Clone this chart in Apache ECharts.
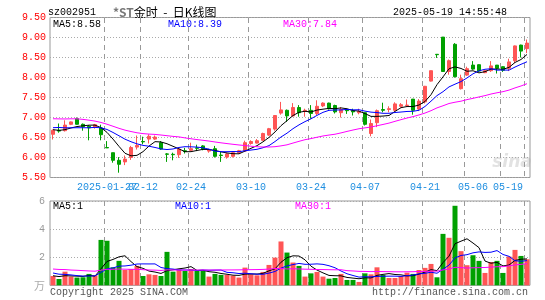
<!DOCTYPE html>
<html>
<head>
<meta charset="utf-8">
<script src="https://cdn.jsdelivr.net/npm/echarts@6/dist/echarts.min.js"></script>
<style>
html, body { margin: 0; padding: 0; background: #fff; }
#main { width: 545px; height: 300px; }
</style>
</head>
<body>
<div id="main"></div>
<script>
// trading days shown (2025-01-14 .. 2025-05-19)
const dates = [
  '2025-01-14','2025-01-15','2025-01-16','2025-01-17','2025-01-20','2025-01-21','2025-01-22','2025-01-23','2025-01-24','2025-01-27',
  '2025-02-05','2025-02-06','2025-02-07','2025-02-10','2025-02-11','2025-02-12','2025-02-13','2025-02-14','2025-02-17','2025-02-18',
  '2025-02-19','2025-02-20','2025-02-21','2025-02-24','2025-02-25','2025-02-26','2025-02-27','2025-02-28',
  '2025-03-03','2025-03-04','2025-03-05','2025-03-06','2025-03-07','2025-03-10','2025-03-11','2025-03-12','2025-03-13','2025-03-14',
  '2025-03-17','2025-03-18','2025-03-19','2025-03-20','2025-03-21','2025-03-24','2025-03-25','2025-03-26','2025-03-27','2025-03-28','2025-03-31',
  '2025-04-01','2025-04-02','2025-04-03','2025-04-07','2025-04-08','2025-04-09','2025-04-10','2025-04-11','2025-04-14','2025-04-15',
  '2025-04-16','2025-04-17','2025-04-18','2025-04-21','2025-04-22','2025-04-23','2025-04-24','2025-04-25','2025-04-28','2025-04-29','2025-04-30',
  '2025-05-06','2025-05-07','2025-05-08','2025-05-09','2025-05-12','2025-05-13','2025-05-14','2025-05-15','2025-05-16','2025-05-19'
];

const opens = [
  6.58,6.68,6.67,6.83,6.97,6.83,6.78,6.76,6.74,6.25,
  6.12,5.93,5.89,6.00,6.26,6.40,6.46,6.46,6.37,6.09,
  6.08,6.07,6.17,6.18,6.24,6.29,6.16,6.22,
  6.06,6.01,6.03,6.12,6.16,6.35,6.36,6.43,6.56,6.71,
  7.11,7.18,7.04,7.25,7.15,7.18,7.10,7.29,7.36,7.30,7.12,
  7.19,7.17,7.12,7.12,6.60,6.87,7.20,7.20,7.18,7.28,
  7.30,7.46,7.21,7.39,7.91,8.58,9.01,8.15,8.83,7.72,8.06,
  8.31,8.32,8.12,8.17,8.31,8.27,8.23,8.42,8.81,8.72
];
const closes = [
  6.68,6.66,6.81,6.89,6.83,6.77,6.74,6.82,6.57,6.24,
  5.93,5.83,5.96,6.25,6.30,6.39,6.53,6.51,6.21,6.08,
  6.07,6.21,6.15,6.22,6.23,6.21,6.19,6.03,
  6.05,6.09,6.12,6.17,6.37,6.40,6.42,6.60,6.72,7.05,
  7.19,7.04,7.25,7.12,7.18,7.10,7.28,7.36,7.22,7.14,7.20,
  7.17,7.14,7.15,6.83,6.85,7.17,7.18,7.22,7.34,7.32,
  7.31,7.18,7.41,7.78,8.17,8.57,8.15,8.42,8.02,7.97,8.22,
  8.21,8.16,8.17,8.29,8.23,8.18,8.39,8.79,8.66,8.86
];
const lows = [
  6.45,6.62,6.65,6.81,6.82,6.67,6.43,6.72,6.43,6.24,
  5.87,5.62,5.81,5.94,6.20,6.33,6.35,6.44,6.19,5.89,
  5.93,5.99,6.10,6.16,6.16,6.18,6.12,6.00,
  5.89,5.97,6.00,6.10,6.15,6.32,6.35,6.42,6.54,6.67,
  7.07,6.89,7.02,7.02,7.02,6.97,7.06,7.26,7.20,7.10,7.00,
  7.09,7.05,7.08,6.80,6.53,6.76,7.13,7.13,7.15,7.25,
  7.27,7.07,7.16,7.35,7.90,8.49,8.14,8.07,8.00,7.70,8.04,
  8.19,8.14,8.11,8.14,8.10,8.14,8.16,8.36,8.50,8.61
];
const highs = [
  6.70,6.85,6.93,6.90,7.00,6.85,6.81,6.84,6.82,6.41,
  6.12,6.01,6.05,6.29,6.55,6.52,6.58,6.55,6.41,6.11,
  6.12,6.24,6.24,6.37,6.32,6.31,6.22,6.29,
  6.14,6.12,6.14,6.19,6.42,6.43,6.46,6.62,6.74,7.06,
  7.39,7.20,7.36,7.31,7.22,7.31,7.43,7.38,7.37,7.32,7.26,
  7.22,7.22,7.22,7.12,6.95,7.20,7.37,7.28,7.38,7.36,
  7.45,7.46,7.46,7.79,8.17,8.58,9.01,8.45,8.86,8.07,8.27,
  8.41,8.33,8.18,8.41,8.31,8.28,8.47,8.80,8.82,8.95
];
// volume, 万手
const volumes = [
  0.66,0.45,0.97,0.62,0.55,0.57,0.81,0.71,3.23,3.17,
  1.28,1.74,1.09,1.16,1.38,0.66,0.78,0.74,0.66,2.38,
  0.97,1.12,1.02,1.16,1.02,1.02,0.62,0.81,
  0.74,0.74,0.69,0.55,1.26,0.78,0.71,0.95,1.45,1.97,
  3.12,2.33,1.62,1.38,0.62,0.85,0.95,0.62,0.47,0.52,0.81,
  0.38,0.38,0.24,0.85,0.78,1.28,0.74,0.52,0.52,0.66,
  0.90,0.81,1.09,1.24,1.52,0.57,3.66,3.38,5.66,2.43,1.43,
  2.14,1.74,0.88,1.66,1.74,0.88,2.05,2.52,2.09,1.85
];

// days before the window, estimated from where the MA lines start
const closesBefore = [
  6.80,6.85,6.78,6.82,7.20,7.35,7.50,7.60,7.55,7.45,
  7.40,7.30,7.30,7.25,7.00,6.90,6.75,6.65,6.60,6.58,
  6.60,6.90,6.88,6.82,6.77,6.75,6.72,6.68,6.65
];
const volumesBefore = [
  1.40,1.20,1.60,1.10,1.30,1.50,1.20,1.00,1.40,1.30,
  1.10,1.45,1.50,1.30,1.45,1.40,1.10,1.30,1.20,1.20,
  1.30,1.10,1.00,1.05,0.90,0.75,0.65,0.70,0.64
];

// dashed day lines and dated labels on the time axis
const lineDays = ['2025-01-27','2025-02-12','2025-02-24','2025-03-10','2025-03-24','2025-04-07','2025-04-21','2025-04-30','2025-05-13','2025-05-19'];
const labelDays = ['2025-01-27','2025-02-12','2025-02-24','2025-03-10','2025-03-24','2025-04-07','2025-04-21','2025-05-06','2025-05-19'];

const UP = '#ff5555';
const DOWN = '#00a000';
const MONO = 'Liberation Mono';
const DATE_COLOR = '#1e8ee0';
const SEP_COLOR = '#999999';
const PRICE_MIN = 5.5, PRICE_MAX = 9.5;
const VOL_MAX = 6;

function movingAvg(before, values, n) {
  const all = before.concat(values);
  return values.map(function (v, i) {
    let s = 0;
    for (let k = 0; k < n; k++) s += all[before.length + i - k];
    return +(s / n).toFixed(3);
  });
}

const ma5 = movingAvg(closesBefore, closes, 5);
const ma10 = movingAvg(closesBefore, closes, 10);
const ma30 = movingAvg(closesBefore, closes, 30);
const vma5 = movingAvg(volumesBefore, volumes, 5);
const vma10 = movingAvg(volumesBefore, volumes, 10);
const vma30 = movingAvg(volumesBefore, volumes, 30);
const last = dates.length - 1;

const lineIdx = lineDays.map(function (d) { return dates.indexOf(d); });
const labelIdx = labelDays.map(function (d) { return dates.indexOf(d); });

const chart = echarts.init(document.getElementById('main'));

// dashed day separators at the left edge of the day's band, one rect per dash
const DASH = 5, GAP = 4;
function dayLines(axisIndex, yLo, yHi) {
  const items = [];
  lineIdx.forEach(function (i) {
    for (let k = 0; k < 20; k++) items.push([i, k]);
  });
  return {
    type: 'custom', xAxisIndex: axisIndex, yAxisIndex: axisIndex,
    data: items,
    renderItem: function (params, api) {
      const idx = api.value(0);
      const k = api.value(1);
      const top = api.coord([idx, yHi]);
      const bottom = api.coord([idx, yLo]);
      const half = api.size([1, 0])[0] / 2;
      const x = Math.round(top[0] - half);
      const y0 = Math.round(top[1]) + k * (DASH + GAP);
      if (y0 >= bottom[1]) return null;
      return {
        type: 'rect',
        shape: { x: x, y: y0, width: 1, height: Math.min(DASH, bottom[1] - y0) },
        style: { fill: SEP_COLOR }
      };
    }
  };
}

function txt(x, y, text, color, extra) {
  return {
    type: 'text', x: x, y: y, silent: true,
    style: Object.assign({
      text: text, fill: color, fontFamily: MONO, fontSize: 10,
      verticalAlign: 'middle'
    }, extra || {})
  };
}

function dateAxis(gridIndex, shown, fmt) {
  return {
    type: 'category', gridIndex: gridIndex, data: dates, boundaryGap: true, position: 'bottom',
    axisLine: { show: false }, axisTick: { show: false }, splitLine: { show: false },
    axisLabel: {
      show: shown.length > 0,
      interval: function (i) { return shown.indexOf(i) >= 0; },
      showMinLabel: true, showMaxLabel: true, hideOverlap: false,
      color: DATE_COLOR, fontFamily: MONO, fontSize: 10, margin: 5,
      formatter: fmt,
      rich: { r: { color: DATE_COLOR, fontFamily: MONO, fontSize: 10, padding: [0, 38, 0, 0] } }
    }
  };
}

const option = {
  backgroundColor: '#ffffff',
  animation: false,
  grid: [
    { left: 50, right: 15, top: 17.5, height: 160, show: true, borderColor: '#999', borderWidth: 1 },
    { left: 50, right: 15, top: 201, height: 84.3, show: true, borderColor: '#999', borderWidth: 1 }
  ],
  xAxis: [
    dateAxis(0, labelIdx.slice(1), function (v) {
      if (v === dates[last]) return '{r|' + v.slice(5) + '}';
      return v.slice(5);
    }),
    dateAxis(1, [], null),
    // the first date label overlaps its neighbour, as in the source picture
    dateAxis(0, labelIdx.slice(0, 1), function (v) { return v; })
  ],
  yAxis: [
    {
      gridIndex: 0, min: PRICE_MIN, max: PRICE_MAX, interval: 0.5,
      axisLine: { show: false }, axisTick: { show: false },
      axisLabel: {
        color: '#ff0000', fontFamily: MONO, fontSize: 10, margin: 4,
        formatter: function (v) { return v.toFixed(2); }
      },
      splitLine: { lineStyle: { color: '#aaa', width: 1, type: [1, 2] } }
    },
    {
      gridIndex: 1, min: 0, max: VOL_MAX, interval: 2,
      axisLine: { show: false }, axisTick: { show: false },
      axisLabel: {
        color: '#999', fontFamily: MONO, fontSize: 10, margin: 5,
        formatter: function (v) { return v === 0 ? '' : String(v); }
      },
      splitLine: { lineStyle: { color: '#aaa', width: 1, type: [1, 2] } }
    }
  ],
  series: [
    {
      name: 'K', type: 'candlestick', xAxisIndex: 0, yAxisIndex: 0,
      barWidth: 4, z: 4,
      data: dates.map(function (d, i) { return [opens[i], closes[i], lows[i], highs[i]]; }),
      itemStyle: { color: UP, color0: DOWN, borderColor: UP, borderColor0: DOWN, borderWidth: 1 }
    },
    { name: 'MA5', type: 'line', data: ma5, showSymbol: false, lineStyle: { color: '#000', width: 1 }, z: 5 },
    { name: 'MA10', type: 'line', data: ma10, showSymbol: false, lineStyle: { color: '#0000ff', width: 1 }, z: 5 },
    { name: 'MA30', type: 'line', data: ma30, showSymbol: false, lineStyle: { color: '#ff00ff', width: 1 }, z: 5 },
    {
      name: 'VOL', type: 'bar', xAxisIndex: 1, yAxisIndex: 1, barWidth: 5, z: 4,
      data: volumes.map(function (v, i) {
        return { value: v, itemStyle: { color: closes[i] >= opens[i] ? UP : DOWN } };
      })
    },
    { type: 'line', xAxisIndex: 1, yAxisIndex: 1, data: vma5, showSymbol: false, lineStyle: { color: '#000', width: 1 }, z: 5 },
    { type: 'line', xAxisIndex: 1, yAxisIndex: 1, data: vma10, showSymbol: false, lineStyle: { color: '#0000ff', width: 1 }, z: 5 },
    { type: 'line', xAxisIndex: 1, yAxisIndex: 1, data: vma30, showSymbol: false, lineStyle: { color: '#ff00ff', width: 1 }, z: 5 },
    dayLines(0, PRICE_MIN, PRICE_MAX),
    dayLines(1, 0, VOL_MAX)
  ],
  graphic: [
    txt(48, 12, 'sz002951', '#000'),
    {
      type: 'text', x: 113, y: 12, silent: true,
      style: {
        text: '{g|*ST}{b|金时  -  日K线图}', align: 'left', verticalAlign: 'middle',
        rich: {
          g: { fill: '#777', fontWeight: 'bold', fontSize: 12, fontFamily: 'Noto Sans CJK SC' },
          b: { fill: '#000', fontSize: 12, fontFamily: 'Noto Sans CJK SC' }
        }
      }
    },
    txt(507, 12, '2025-05-19 14:55:48', '#000', { align: 'right' }),
    txt(53, 24, 'MA5:' + ma5[last].toFixed(2), '#000'),
    txt(168, 24, 'MA10:' + ma10[last].toFixed(2), '#0000ff'),
    txt(283, 24, 'MA30:' + ma30[last].toFixed(2), '#ff00ff'),
    txt(53, 206, 'MA5:' + Math.floor(vma5[last]), '#000'),
    txt(175, 206, 'MA10:' + Math.floor(vma10[last]), '#0000ff'),
    txt(295, 206, 'MA30:' + Math.floor(vma30[last]), '#ff00ff'),
    txt(45, 286, '万', '#aaa', { align: 'right', fontFamily: 'Noto Sans CJK SC', fontSize: 11 }),
    txt(50, 292, 'Copyright 2025 SINA.COM', '#555'),
    txt(528, 292, 'http://finance.sina.com.cn', '#555', { align: 'right' }),
    {
      type: 'text', x: 512, y: 163, silent: true, z: -1,
      style: { text: 'sina', align: 'center', verticalAlign: 'middle', fill: '#e2e2e2', fontSize: 17, fontWeight: 'bold', fontStyle: 'italic', fontFamily: 'DejaVu Sans' }
    }
  ]
};

chart.setOption(option);
</script>
</body>
</html>
